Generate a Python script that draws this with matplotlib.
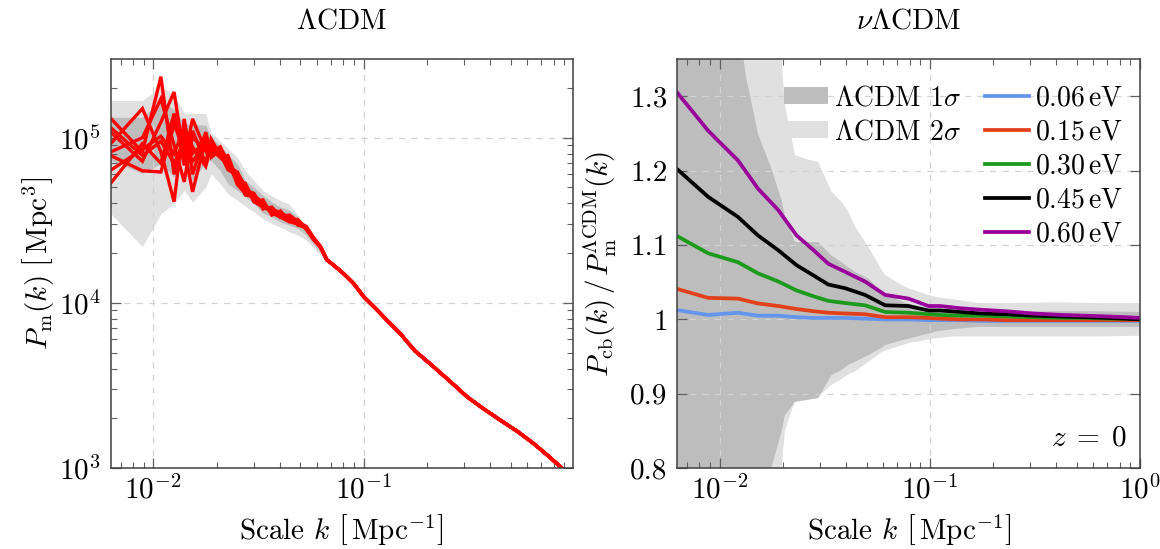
import numpy as np
import matplotlib
matplotlib.use("Agg")
import matplotlib.pyplot as plt
import matplotlib.ticker as mt
from matplotlib.patches import Patch

# ---------------- data: left panel (LambdaCDM realisations) ----------------
# low-k shells (Mpc^-1)
K_LOW = [0.00628, 0.00889, 0.01088, 0.01257, 0.01405, 0.01539, 0.01777, 0.01885,
         0.02084, 0.02265, 0.02513, 0.02739, 0.03013, 0.03325, 0.03664, 0.04023,
         0.04443, 0.04867, 0.05332, 0.05827]
# individual realisations at low k, P in units of 1e4 Mpc^3
REAL_1 = [13.1, 8.2, 23.4, 6.0, 10.5, 8.0, 9.5, 8.6, 8.2, 6.6, 6.2, 4.8, 4.6, 3.7, 3.8, 3.3, 3.4, 3.1, 2.85, 2.40]
REAL_2 = [10.8, 7.2, 12.4, 18.9, 7.5, 13.0, 8.3, 9.4, 7.6, 7.8, 5.5, 5.3, 4.1, 4.2, 3.4, 3.6, 3.1, 3.2, 2.80, 2.45]
REAL_3 = [9.2, 15.0, 8.2, 4.1, 13.0, 6.0, 10.8, 8.0, 8.6, 7.0, 6.0, 4.5, 4.4, 3.9, 3.5, 3.4, 3.3, 2.95, 2.90, 2.40]
REAL_4 = [8.2, 10.0, 17.2, 9.0, 5.4, 11.0, 7.0, 9.8, 7.8, 6.9, 5.8, 5.2, 4.1, 3.8, 3.7, 3.5, 3.2, 3.05, 2.85, 2.42]
REAL_5 = [7.8, 6.3, 6.2, 12.0, 8.5, 4.7, 9.9, 7.6, 8.4, 7.3, 5.2, 4.6, 4.5, 4.0, 3.5, 3.3, 3.25, 3.15, 2.80, 2.38]
REAL_6 = [6.35, 8.5, 10.2, 8.0, 11.5, 8.8, 6.7, 9.0, 8.0, 6.4, 5.9, 5.0, 4.2, 3.9, 3.6, 3.45, 3.35, 3.1, 2.90, 2.45]
REAL_7 = [5.3, 9.2, 7.0, 14.0, 6.8, 10.0, 8.5, 8.1, 8.8, 7.1, 5.6, 4.9, 4.3, 3.85, 3.65, 3.3, 3.1, 3.0, 2.82, 2.40]
REAL_8 = [11.5, 7.8, 9.5, 7.0, 9.5, 7.2, 9.2, 8.4, 7.6, 6.8, 6.1, 5.1, 4.4, 3.95, 3.55, 3.45, 3.25, 3.08, 2.88, 2.43]
REALISATIONS = [REAL_1, REAL_2, REAL_3, REAL_4, REAL_5, REAL_6, REAL_7, REAL_8]
# high-k part, shared by all realisations (1e4 Mpc^3)
K_HIGH = [0.0623, 0.0669, 0.0721, 0.0749, 0.0800, 0.0896, 0.1000, 0.1160, 0.1290, 0.1490,
          0.1750, 0.2150, 0.2600, 0.3100, 0.3700, 0.4460, 0.5400, 0.6410, 0.7500, 0.8750, 1.0000]
P_HIGH = [2.19, 1.82, 1.69, 1.62, 1.51, 1.31, 1.09, 0.904, 0.785, 0.653,
          0.513, 0.410, 0.331, 0.270, 0.229, 0.195, 0.166, 0.141, 0.119, 0.100, 0.0863]
# LambdaCDM 1 sigma / 2 sigma bands (1e4 Mpc^3)
K_BAND_L = K_LOW + [0.0669]
UP2_L = [16.8, 16.8, 20.4, 18.2, 14.1, 14.0, 14.0, 10.7, 9.55, 8.61, 7.59, 6.31, 5.50, 4.79, 4.42, 4.17, 3.94, 3.39, 2.95, 2.51, 1.86]
LO2_L = [3.47, 2.19, 3.47, 3.98, 4.79, 4.07, 5.01, 6.03, 5.25, 4.57, 4.17, 3.85, 3.55, 3.24, 3.02, 2.88, 2.69, 2.57, 2.40, 2.14, 1.78]
UP1_L = [13.3, 13.3, 16.8, 14.8, 12.2, 12.0, 11.9, 10.1, 8.91, 7.94, 6.92, 5.50, 5.01, 4.47, 4.07, 3.80, 3.63, 3.31, 2.82, 2.45, 1.86]
LO1_L = [7.29, 6.07, 6.97, 5.78, 7.64, 5.52, 7.08, 7.29, 6.31, 5.27, 4.79, 4.38, 3.98, 3.48, 3.31, 3.09, 2.95, 2.82, 2.57, 2.24, 1.78]

# ---------------- data: right panel (nu LambdaCDM ratios) ----------------
K_NU = [0.00628, 0.0088, 0.0122, 0.0152, 0.019, 0.0232, 0.028, 0.0328, 0.0395, 0.0491, 0.0612,
        0.0791, 0.0985, 0.112, 0.14, 0.175, 0.23, 0.31, 0.42, 0.55, 0.70, 0.85, 1.0]
R_006 = [1.0125, 1.006, 1.009, 1.005, 1.005, 1.003, 1.002, 1.002, 1.002, 1.001, 1.000,
         1.000, 0.999, 0.999, 0.999, 0.998, 0.998, 0.998, 0.998, 0.998, 0.998, 0.998, 0.998]
R_015 = [1.041, 1.029, 1.028, 1.0215, 1.018, 1.014, 1.011, 1.009, 1.008, 1.007, 1.003,
         1.003, 1.002, 1.001, 1.000, 1.000, 0.999, 0.999, 0.999, 0.999, 0.999, 0.999, 0.999]
R_030 = [1.112, 1.089, 1.077, 1.062, 1.051, 1.039, 1.031, 1.025, 1.022, 1.019, 1.010,
         1.009, 1.007, 1.006, 1.005, 1.005, 1.004, 1.003, 1.002, 1.002, 1.001, 1.001, 1.000]
R_045 = [1.202, 1.165, 1.138, 1.113, 1.093, 1.073, 1.059, 1.047, 1.042, 1.033, 1.019,
         1.018, 1.012, 1.012, 1.010, 1.008, 1.007, 1.005, 1.004, 1.003, 1.002, 1.001, 1.000]
R_060 = [1.305, 1.254, 1.214, 1.176, 1.147, 1.113, 1.093, 1.075, 1.064, 1.051, 1.033,
         1.028, 1.018, 1.018, 1.015, 1.013, 1.011, 1.008, 1.006, 1.005, 1.004, 1.003, 1.002]
NU_SERIES = [R_006, R_015, R_030, R_045, R_060]
NU_LABELS = [r"$0.06\,$eV", r"$0.15\,$eV", r"$0.30\,$eV", r"$0.45\,$eV", r"$0.60\,$eV"]
NU_COLORS = ["#6495ED", "#E2401B", "#1C9A1C", "#000000", "#990099"]

K_BAND_R = [0.00628, 0.0110, 0.0129, 0.0133, 0.0152, 0.0176, 0.0197, 0.0204, 0.0228, 0.0264, 0.0294,
            0.0340, 0.0380, 0.0409, 0.0440, 0.0509, 0.0590, 0.0612, 0.0735, 0.0790, 0.0985,
            0.108, 0.13, 0.17, 0.25, 0.40, 0.60, 1.0]
UP1_R = [1.80, 1.50, 1.355, 1.328, 1.250, 1.203, 1.160, 1.140, 1.104, 1.104, 1.104, 1.086, 1.077, 1.070,
         1.064, 1.055, 1.037, 1.035, 1.024, 1.021, 1.0125, 1.010, 1.010, 1.010, 1.010, 1.011, 1.011, 1.010]
LO1_R = [0.20, 0.50, 0.62, 0.64, 0.72, 0.80, 0.850, 0.871, 0.889, 0.892, 0.894, 0.925, 0.932, 0.939,
         0.943, 0.952, 0.962, 0.9655, 0.972, 0.974, 0.981, 0.984, 0.987, 0.990, 0.990, 0.990, 0.990, 0.990]
UP2_R = [2.00, 1.70, 1.60, 1.58, 1.50, 1.42, 1.35, 1.29, 1.221, 1.215, 1.212, 1.172, 1.158, 1.145,
         1.125, 1.098, 1.066, 1.060, 1.046, 1.042, 1.033, 1.030, 1.027, 1.022, 1.022, 1.023, 1.022, 1.022]
LO2_R = [0.00, 0.40, 0.50, 0.52, 0.60, 0.70, 0.80, 0.85, 0.890, 0.895, 0.896, 0.912, 0.920, 0.926,
         0.930, 0.943, 0.956, 0.958, 0.965, 0.968, 0.973, 0.975, 0.977, 0.977, 0.977, 0.977, 0.977, 0.978]

Y_TICKS_R = [0.8, 0.9, 1.0, 1.1, 1.2, 1.3]
Y_TICKLABELS_R = ["0.8", "0.9", "1", "1.1", "1.2", "1.3"]

# ---------------- style ----------------
FS = 21
LFS = 20
plt.rcParams.update({
    "font.family": "cmr10",
    "mathtext.fontset": "cm",
    "axes.formatter.use_mathtext": True,
    "font.size": FS,
})

C1 = "#bdbdbd"
C2 = "#e0e0e0"

fig = plt.figure(figsize=(11.6, 5.49), dpi=100)
ax1 = fig.add_axes([0.0954, 0.1475, 0.3983, 0.7444])
ax2 = fig.add_axes([0.5839, 0.1475, 0.3989, 0.7444])


def style(ax):
    ax.set_xscale("log")
    ax.tick_params(which="both", direction="in", top=True, right=True,
                   colors="#606060", labelcolor="black", labelsize=FS)
    ax.tick_params(which="major", length=7, width=0.9, pad=7)
    ax.tick_params(which="minor", length=4.5, width=0.8)
    ax.tick_params(axis="x", which="major", pad=5)
    for s in ax.spines.values():
        s.set_color("#404040")
        s.set_linewidth(1.1)
    ax.grid(True, which="major", ls=(0, (5, 5)), color="#d2d2d2", lw=0.9)
    ax.set_axisbelow("line")
    ax.xaxis.set_major_locator(mt.LogLocator(base=10, numticks=10))
    ax.xaxis.set_minor_locator(mt.LogLocator(base=10, subs=np.arange(2, 10), numticks=50))
    ax.xaxis.set_minor_formatter(mt.NullFormatter())
    ax.set_xlabel(r"Scale $k$ $\left[\,\mathrm{Mpc}^{-1}\right]$", labelpad=6)


# ---- left panel ----
s = 1e4
ax1.fill_between(K_BAND_L, np.array(LO2_L) * s, np.array(UP2_L) * s, color=C2, lw=0, zorder=1)
ax1.fill_between(K_BAND_L, np.array(LO1_L) * s, np.array(UP1_L) * s, color=C1, lw=0, zorder=1.1)
for r in REALISATIONS:
    kk = np.concatenate([K_LOW, K_HIGH])
    pp = np.concatenate([r, P_HIGH]) * s
    ax1.plot(kk, pp, color="#ff0000", lw=2.4, zorder=2, solid_joinstyle="miter")
style(ax1)
ax1.set_yscale("log")
ax1.yaxis.set_minor_locator(mt.LogLocator(base=10, subs=np.arange(2, 10), numticks=50))
ax1.yaxis.set_minor_formatter(mt.NullFormatter())
ax1.set_xlim(0.00628, 0.985)
ax1.set_ylim(1e3, 2.98e5)
ax1.set_ylabel(r"$P_\mathrm{m}(k)\ \left[\,\mathrm{Mpc}^3\right]$", labelpad=1)
ax1.set_title(r"$\Lambda$CDM", pad=22, fontsize=FS)

# ---- right panel ----
ax2.fill_between(K_BAND_R, LO2_R, UP2_R, color=C2, lw=0, zorder=1)
ax2.fill_between(K_BAND_R, LO1_R, UP1_R, color=C1, lw=0, zorder=1.1)
lines = []
for y, lab, c in zip(NU_SERIES, NU_LABELS, NU_COLORS):
    ln, = ax2.plot(K_NU, y, color=c, lw=2.7, zorder=2, label=lab)
    lines.append(ln)
style(ax2)
ax2.set_xlim(0.00628, 1.0)
ax2.set_ylim(0.8, 1.35)
ax2.set_yticks(Y_TICKS_R)
ax2.set_yticklabels(Y_TICKLABELS_R)
ax2.set_ylabel(r"$P_\mathrm{cb}(k)\,/\,P_\mathrm{m}^{\Lambda\mathrm{CDM}}(k)$", labelpad=8)
ax2.set_title(r"$\nu\Lambda$CDM", pad=22, fontsize=FS)
ax2.text(0.972, 0.056, r"$z\;=\;0$", transform=ax2.transAxes, ha="right", va="baseline", fontsize=FS)

blank = Patch(facecolor="none", edgecolor="none")
handles = [Patch(facecolor=C1, edgecolor="none"), Patch(facecolor=C2, edgecolor="none"),
           blank, blank, blank] + lines
labels = [r"$\Lambda$CDM $1\sigma$", r"$\Lambda$CDM $2\sigma$", "", "", ""] + NU_LABELS
ax2.legend(handles, labels, ncol=2, loc="upper right", frameon=False, fontsize=LFS,
           handlelength=1.6, handleheight=0.6, handletextpad=0.22, columnspacing=0.85,
           labelspacing=0.28, borderaxespad=0.2, bbox_to_anchor=(1.0, 0.978))

fig.savefig("out.png", dpi=100)
